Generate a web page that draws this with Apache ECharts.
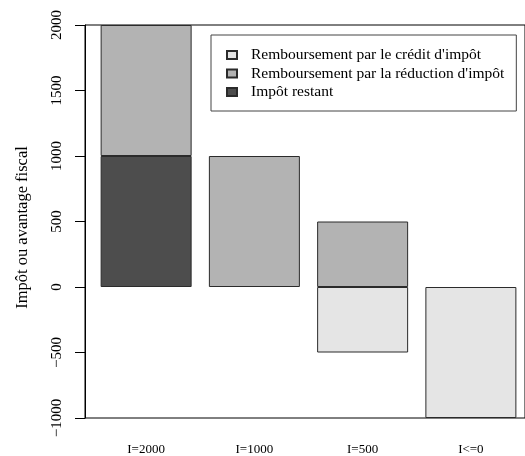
<!DOCTYPE html>
<html>
<head>
<meta charset="utf-8">
<script src="https://cdn.jsdelivr.net/npm/echarts@6/dist/echarts.min.js"></script>
<style>
  html, body { margin: 0; padding: 0; background: #fff; }
  #chart { width: 525px; height: 456px; }
</style>
</head>
<body>
<div id="chart"></div>
<script>
// Income levels on the horizontal axis
const categories = ['I=2000', 'I=1000', 'I=500', 'I<=0'];
// Tax still due (bottom segment)
const impotRestant = [1000, 0, 0, 0];
// Refund through the tax reduction
const remboursementReduction = [1000, 1000, 500, 0];
// Refund through the tax credit (negative side)
const remboursementCredit = [0, 0, -500, -1000];
// Vertical scale
const yMin = -1000;
const yMax = 2000;
const yStep = 500;

const labelCredit = "Remboursement par le crédit d'impôt";
const labelReduction = "Remboursement par la réduction d'impôt";
const labelRestant = 'Impôt restant';

const FONT = "'Liberation Serif', 'Times New Roman', serif";

// zero-height segments are left out
const seg = arr => arr.map(v => (v === 0 ? '-' : v));
// plain integers with a typographic minus
const tickText = v => (v < 0 ? '\u2212' + Math.abs(v) : String(v));

const chart = echarts.init(document.getElementById('chart'), null, { renderer: 'canvas' });

const barStyle = color => ({ color: color, borderColor: '#2b2b2b', borderWidth: 1 });

chart.setOption({
  animation: false,
  backgroundColor: '#fff',
  textStyle: { fontFamily: FONT, color: '#000' },
  grid: [
    // frame around the plotting region (right side runs past the canvas)
    { left: 85, right: -11.5, top: 25, bottom: 38, show: true,
      borderColor: '#000', borderWidth: 1, backgroundColor: 'transparent' },
    // band layout for the bars
    { left: 92, right: -3, top: 25, bottom: 38 }
  ],
  xAxis: [
    { gridIndex: 0, type: 'value', show: false, min: 0, max: 1 },
    {
      gridIndex: 1, type: 'category', data: categories,
      axisLine: { show: false, onZero: false },
      axisTick: { show: false },
      splitLine: { show: false },
      axisLabel: { fontFamily: FONT, fontSize: 13, color: '#000', margin: 25, interval: 0 }
    }
  ],
  yAxis: [
    {
      gridIndex: 0, type: 'value', min: yMin, max: yMax, interval: yStep,
      name: 'Impôt ou avantage fiscal',
      nameLocation: 'middle', nameRotate: 90, nameGap: 54,
      nameTextStyle: { fontFamily: FONT, fontSize: 16.5, color: '#000', padding: [0, 12, 0, 0] },
      axisLine: { show: true, onZero: false, lineStyle: { color: '#000', width: 1 } },
      axisTick: { show: true, length: 10, lineStyle: { color: '#000', width: 1 } },
      splitLine: { show: false },
      axisLabel: { fontFamily: FONT, fontSize: 15, color: '#000', rotate: 90, margin: 20,
                   formatter: tickText }
    },
    { gridIndex: 1, type: 'value', min: yMin, max: yMax, interval: yStep, show: false,
      splitLine: { show: false } }
  ],
  legend: {
    left: 211, top: 35,
    orient: 'vertical',
    data: [labelCredit, labelReduction, labelRestant],
    icon: 'rect',
    itemWidth: 10, itemHeight: 8, itemGap: 2.5,
    padding: [12, 12, 11, 15],
    borderColor: '#444', borderWidth: 1,
    textStyle: { fontFamily: FONT, fontSize: 15.5, color: '#000', lineHeight: 15, padding: [0, 0, 0, 9] }
  },
  series: [
    { name: labelRestant, type: 'bar', stack: 'total', xAxisIndex: 1, yAxisIndex: 1,
      barWidth: 91, data: seg(impotRestant), itemStyle: barStyle('#4d4d4d') },
    { name: labelReduction, type: 'bar', stack: 'total', xAxisIndex: 1, yAxisIndex: 1,
      barWidth: 91, data: seg(remboursementReduction), itemStyle: barStyle('#b3b3b3') },
    { name: labelCredit, type: 'bar', stack: 'total', xAxisIndex: 1, yAxisIndex: 1,
      barWidth: 91, data: seg(remboursementCredit), itemStyle: barStyle('#e5e5e5') }
  ]
});
</script>
</body>
</html>
